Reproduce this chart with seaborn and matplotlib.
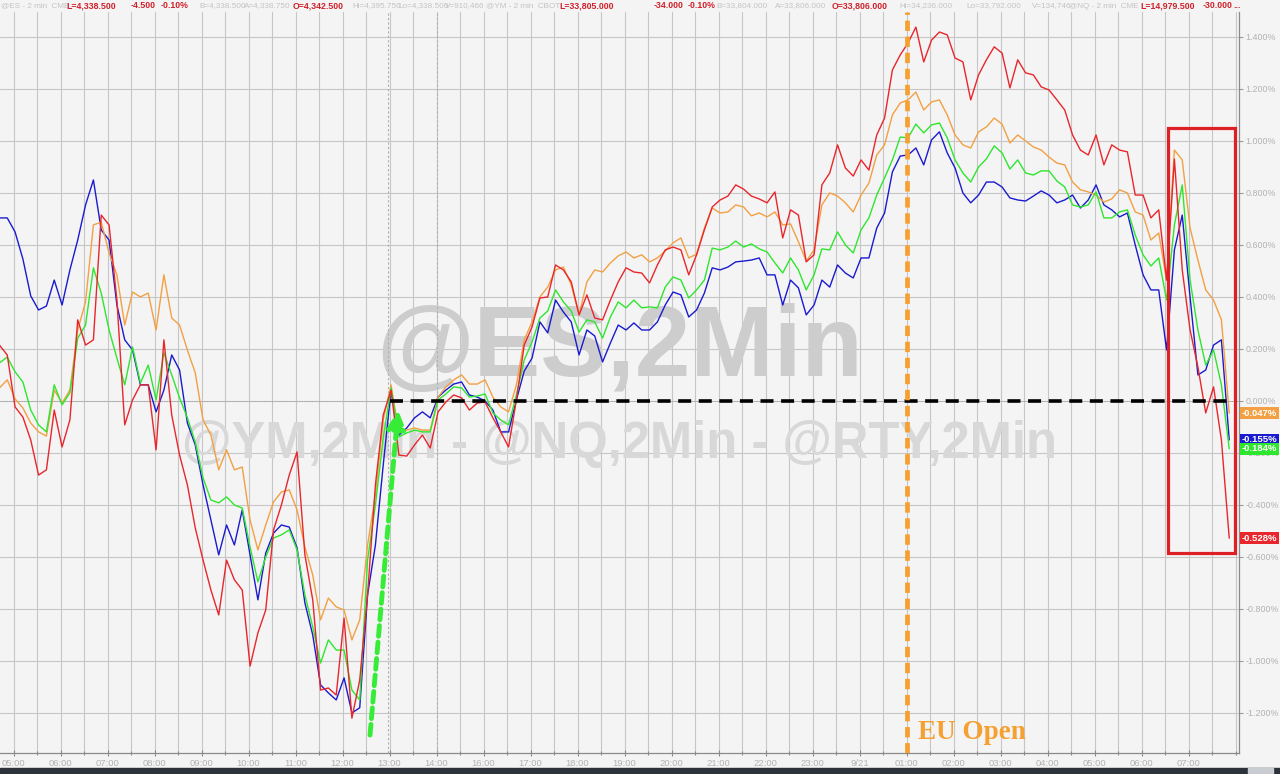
import numpy as np
import pandas as pd
import matplotlib
matplotlib.use("Agg")
import matplotlib.pyplot as plt
import matplotlib.transforms as mtransforms
from matplotlib import font_manager
from matplotlib.patches import Rectangle
from matplotlib.ticker import FuncFormatter, MultipleLocator
import seaborn as sns

# chart time: hours after the 05:00 slot, one reading every 10 minutes
T_START = -0.3
T_STEP = 1 / 6

HOUR_LABELS = ["05:00", "06:00", "07:00", "08:00", "09:00", "10:00", "11:00", "12:00",
               "13:00", "14:00", "16:00", "17:00", "18:00", "19:00", "20:00", "21:00",
               "22:00", "23:00", "9/21", "01:00", "02:00", "03:00", "04:00", "05:00",
               "06:00", "07:00"]

# % change
es = [0.704, 0.704, 0.650, 0.546, 0.404, 0.350, 0.365, 0.465, 0.369, 0.504,
      0.619, 0.754, 0.850, 0.658, 0.619, 0.369, 0.235, 0.196, 0.062, 0.062,
      -0.042, 0.042, 0.177, 0.119, -0.085, -0.169, -0.323, -0.458, -0.592, -0.477,
      -0.554, -0.419, -0.592, -0.765, -0.585, -0.508, -0.477, -0.485, -0.565, -0.777,
      -0.900, -1.092, -1.123, -1.150, -1.065, -1.200, -1.180, -0.746, -0.554, -0.246,
      0.042, -0.131, -0.104, -0.065, -0.042, -0.065, 0.015, 0.042, 0.065, 0.073,
      0.023, 0.015, 0.000, -0.035, -0.119, -0.119, 0.004, 0.115, 0.165, 0.304,
      0.262, 0.388, 0.342, 0.304, 0.177, 0.273, 0.250, 0.150, 0.223, 0.292,
      0.273, 0.300, 0.273, 0.273, 0.304, 0.369, 0.419, 0.408, 0.323, 0.350,
      0.415, 0.512, 0.504, 0.515, 0.535, 0.538, 0.542, 0.550, 0.485, 0.485,
      0.369, 0.465, 0.435, 0.331, 0.369, 0.465, 0.438, 0.523, 0.492, 0.473,
      0.550, 0.550, 0.665, 0.723, 0.881, 0.942, 0.946, 0.973, 0.908, 1.004,
      1.035, 0.954, 0.896, 0.800, 0.762, 0.792, 0.842, 0.842, 0.823, 0.781,
      0.773, 0.769, 0.788, 0.808, 0.792, 0.762, 0.773, 0.792, 0.742, 0.773,
      0.831, 0.754, 0.735, 0.708, 0.723, 0.600, 0.485, 0.427, 0.427, 0.196,
      0.581, 0.715, 0.400, 0.100, 0.119, 0.215, 0.235, -0.150]

rty = [0.215, 0.177, -0.023, -0.062, -0.150, -0.285, -0.265, -0.035, -0.177, -0.073,
       0.312, 0.215, 0.235, 0.715, 0.677, 0.388, -0.092, 0.004, 0.062, 0.062,
       -0.188, 0.235, -0.054, -0.208, -0.323, -0.488, -0.612, -0.727, -0.823, -0.612,
       -0.688, -0.727, -1.020, -0.892, -0.804, -0.496, -0.400, -0.285, -0.196, -0.592,
       -0.765, -1.112, -1.104, -1.131, -0.835, -1.220, -1.073, -0.746, -0.323, -0.054,
       0.042, -0.208, -0.212, -0.169, -0.131, -0.181, -0.042, -0.004, 0.023, 0.012,
       -0.035, -0.008, -0.004, -0.065, -0.119, -0.177, 0.004, 0.215, 0.285, 0.396,
       0.400, 0.523, 0.504, 0.458, 0.331, 0.408, 0.319, 0.312, 0.388, 0.458,
       0.512, 0.496, 0.492, 0.454, 0.523, 0.581, 0.592, 0.581, 0.485, 0.562,
       0.658, 0.746, 0.773, 0.788, 0.831, 0.815, 0.788, 0.777, 0.762, 0.804,
       0.627, 0.735, 0.715, 0.535, 0.562, 0.831, 0.877, 0.985, 0.896, 0.865,
       0.927, 0.888, 1.023, 1.088, 1.273, 1.331, 1.377, 1.438, 1.304, 1.388,
       1.419, 1.408, 1.319, 1.304, 1.158, 1.254, 1.312, 1.362, 1.338, 1.204,
       1.312, 1.262, 1.254, 1.208, 1.196, 1.158, 1.119, 1.023, 0.965, 0.946,
       1.023, 0.908, 0.985, 0.965, 0.958, 0.792, 0.792, 0.704, 0.735, 0.465,
       0.930, 0.504, 0.273, 0.131, -0.046, 0.054, -0.150, -0.528]

nq = [0.050, 0.081, 0.008, -0.027, -0.085, -0.119, -0.135, 0.042, -0.008, 0.042,
      0.273, 0.381, 0.677, 0.688, 0.569, 0.485, 0.292, 0.419, 0.400, 0.415,
      0.273, 0.485, 0.319, 0.292, 0.196, 0.108, -0.073, -0.131, -0.265, -0.188,
      -0.265, -0.254, -0.458, -0.573, -0.477, -0.388, -0.350, -0.342, -0.419, -0.562,
      -0.669, -0.842, -0.758, -0.792, -0.804, -0.919, -0.842, -0.554, -0.362, -0.073,
      0.062, -0.123, -0.112, -0.104, -0.112, -0.112, 0.015, 0.054, 0.081, 0.100,
      0.065, 0.065, 0.081, 0.015, -0.023, -0.042, 0.062, 0.235, 0.304, 0.400,
      0.438, 0.504, 0.515, 0.446, 0.331, 0.458, 0.504, 0.496, 0.531, 0.558,
      0.573, 0.550, 0.562, 0.535, 0.550, 0.577, 0.608, 0.627, 0.550, 0.565,
      0.665, 0.742, 0.723, 0.727, 0.754, 0.746, 0.712, 0.723, 0.708, 0.727,
      0.677, 0.681, 0.612, 0.538, 0.581, 0.754, 0.800, 0.788, 0.762, 0.727,
      0.792, 0.838, 0.946, 0.985, 1.100, 1.146, 1.158, 1.188, 1.119, 1.150,
      1.158, 1.100, 1.023, 0.985, 0.973, 1.035, 1.054, 1.088, 1.065, 0.992,
      1.023, 1.000, 0.977, 0.965, 0.938, 0.915, 0.908, 0.842, 0.812, 0.804,
      0.792, 0.765, 0.777, 0.812, 0.800, 0.727, 0.715, 0.619, 0.646, 0.465,
      0.965, 0.927, 0.665, 0.542, 0.427, 0.388, 0.312, -0.047]

ym = [0.146, 0.169, 0.112, 0.073, -0.035, -0.092, -0.119, 0.062, -0.015, 0.031,
      0.242, 0.292, 0.512, 0.415, 0.273, 0.165, 0.062, 0.208, 0.069, 0.138,
      0.004, 0.185, 0.100, 0.012, -0.065, -0.158, -0.296, -0.381, -0.392, -0.369,
      -0.400, -0.412, -0.562, -0.696, -0.600, -0.527, -0.515, -0.496, -0.573, -0.746,
      -0.869, -1.008, -0.919, -0.958, -0.958, -1.112, -1.150, -0.612, -0.400, -0.142,
      0.050, -0.138, -0.123, -0.112, -0.119, -0.119, 0.004, 0.027, 0.054, 0.050,
      0.015, 0.019, 0.027, -0.046, -0.073, -0.092, 0.023, 0.158, 0.227, 0.319,
      0.346, 0.427, 0.381, 0.346, 0.265, 0.312, 0.304, 0.242, 0.323, 0.381,
      0.358, 0.388, 0.358, 0.362, 0.358, 0.438, 0.477, 0.465, 0.396, 0.427,
      0.465, 0.588, 0.581, 0.592, 0.615, 0.592, 0.604, 0.585, 0.573, 0.531,
      0.492, 0.550, 0.504, 0.427, 0.485, 0.585, 0.581, 0.650, 0.600, 0.569,
      0.658, 0.704, 0.792, 0.858, 0.927, 1.015, 1.012, 1.065, 1.031, 1.062,
      1.069, 1.012, 0.927, 0.877, 0.842, 0.900, 0.931, 0.981, 0.954, 0.892,
      0.927, 0.877, 0.869, 0.885, 0.885, 0.846, 0.823, 0.754, 0.746, 0.754,
      0.804, 0.704, 0.704, 0.727, 0.735, 0.638, 0.562, 0.519, 0.550, 0.388,
      0.677, 0.831, 0.465, 0.273, 0.138, 0.196, 0.062, -0.184]

END_LABELS = {"NQ": "-0.047%", "ES": "-0.155%", "YM": "-0.184%", "RTY": "-0.528%"}

COLORS = {"ES": "#1a1ad0", "NQ": "#f2a043", "YM": "#2ee62e", "RTY": "#e8262b"}
BG = "#f4f4f4"

HEADER = [("@ES - 2 min  CME", 0), ("L=4,338.500", 1), ("-4.500", 1), ("-0.10%", 1),
          ("B=4,338.500", 0), ("A=4,338.750", 0), ("O=4,342.500", 1),
          ("Hi=4,395.750", 0), ("Lo=4,338.500", 0), ("V=910,466", 0),
          ("@YM - 2 min  CBOT", 0), ("L=33,805.000", 1), ("-34.000", 1), ("-0.10%", 1),
          ("B=33,804.000", 0), ("A=33,806.000", 0), ("O=33,806.000", 1),
          ("Hi=34,236.000", 0), ("Lo=33,792.000", 0), ("V=134,746", 0),
          ("@NQ - 2 min  CME", 0), ("L=14,979.500", 1), ("-30.000", 1), ("...", 1)]
HEADER_X = [1, 66, 131, 161, 199, 244, 293, 352, 398, 445, 486, 559, 654, 688,
            716, 775, 832, 899, 966, 1032, 1069, 1140, 1203, 1233]

series = {"ES": es, "NQ": nq, "YM": ym, "RTY": rty}
n = len(es)
t = T_START + T_STEP * np.arange(n)
df = pd.concat([pd.DataFrame({"t": t, "chg": v, "sym": k}) for k, v in series.items()])

sns.set_theme(style="whitegrid")
plt.rcParams["font.family"] = ["Liberation Sans", "DejaVu Sans"]

installed = {f.name for f in font_manager.fontManager.ttflist}
if "Liberation Sans Narrow" in installed:
    head_font, red_size, gray_size = "Liberation Sans Narrow", 7.6, 7.0
else:
    head_font, red_size, gray_size = "Liberation Sans", 6.3, 5.9

W, H = 1280, 774
fig = plt.figure(figsize=(W / 100, H / 100), dpi=100, facecolor=BG)
ax = fig.add_axes([0, 21 / H, 1239 / W, (753 - 12) / H])
ax.set_facecolor(BG)
ax.set_axisbelow(True)

sns.lineplot(data=df, x="t", y="chg", hue="sym", hue_order=["ES", "NQ", "YM", "RTY"],
             palette=COLORS, legend=False, estimator=None, sort=False, lw=1.0, ax=ax,
             zorder=3)

x0 = (0 - 13.5) / 47
x1 = (1239 - 13.5) / 47
ax.set_xlim(x0, x1)
ax.set_ylim(-1.354, 1.496)

ax.set_xticks(np.arange(len(HOUR_LABELS)))
ax.set_xticklabels(HOUR_LABELS)
ax.xaxis.set_minor_locator(MultipleLocator(0.5))
ax.yaxis.set_major_locator(MultipleLocator(0.2))
ax.yaxis.set_major_formatter(FuncFormatter(lambda v, p: f"{(0.0 if abs(v) < 1e-9 else v):.3f}%"))
ax.yaxis.tick_right()
ax.set_xlabel("")
ax.set_ylabel("")

ax.grid(False)
ax.grid(True, which="both", axis="x", color="#c6c6c6", lw=0.8)
ax.grid(True, which="major", axis="y", color="#c6c6c6", lw=0.8)

for s in ["left", "top"]:
    ax.spines[s].set_visible(False)
for s in ["right", "bottom"]:
    ax.spines[s].set_color("#8a8a8a")
    ax.spines[s].set_linewidth(0.9)

ax.tick_params(axis="y", which="major", right=True, length=3, width=0.8, color="#9a9a9a",
               labelsize=6.4, labelcolor="#b2b2b2", pad=1.5)
ax.tick_params(axis="x", which="major", bottom=True, length=4, width=0.8, color="#8a8a8a",
               labelsize=6.8, labelcolor="#b2b2b2", pad=2, direction="inout")
ax.tick_params(axis="x", which="minor", bottom=True, length=3, width=0.8, color="#8a8a8a",
               direction="inout")

# watermark
ax.text(0.5, 0.544, "@ES,2Min", transform=ax.transAxes, ha="center", va="center",
        fontsize=72, fontweight="bold", color="#cdcdcd", zorder=1)
ax.text(0.5, 0.416, "@YM,2Min - @NQ,2Min - @RTY,2Min", transform=ax.transAxes,
        ha="center", va="center", fontsize=36.5, fontweight="bold", color="#d8d8d8", zorder=1)

# zero reference, session breaks
ax.axhline(0, color="#9a9a9a", lw=0.6, ls=(0, (1, 1)), zorder=2)
for xb in [(388 - 13.5) / 47, 9.0]:
    ax.axvline(xb, color="#b0b0b0", lw=0.8, ls=(0, (2, 2)), zorder=2)

# annotations
ax.hlines(0, 8.0, t[-1], color="black", lw=2.6, ls=(0, (3.6, 2.1)), zorder=4)
ax.axvline(19.0, color="#f5a030", lw=3.4, ls=(0, (2.2, 1.2)), zorder=4)
ax.text(19.25, 0.027, "EU Open", transform=mtransforms.blended_transform_factory(ax.transData, ax.transAxes),
        ha="left", va="center", fontsize=19.5, fontweight="bold", color="#f5a030",
        family=["Liberation Serif", "DejaVu Serif"], zorder=5)

ax.annotate("", xy=((398 - 13.5) / 47, -0.035), xytext=((370 - 13.5) / 47, -1.285),
            arrowprops=dict(arrowstyle="-|>,head_length=0.9,head_width=0.45", color="#36ec36",
                            lw=3.5, ls=(0, (2.2, 1.2)), shrinkA=0, shrinkB=0), zorder=5)

rx0 = (1168 - 13.5) / 47
rx1 = (1235 - 13.5) / 47
ax.add_patch(Rectangle((rx0, -0.585), rx1 - rx0, 1.05 + 0.585, fill=False,
                       edgecolor="#dd1f26", lw=2.3, zorder=5))

# last value tags
tag = mtransforms.blended_transform_factory(ax.transAxes, ax.transData)
for sym in ["NQ", "ES", "YM", "RTY"]:
    ax.text(1.0025, series[sym][-1], END_LABELS[sym], transform=tag, ha="left", va="center",
            fontsize=6.8, fontweight="bold", color="white", clip_on=False, zorder=6,
            bbox=dict(boxstyle="square,pad=0.18", fc=COLORS[sym], ec="none"))

# header line
for (txt, red), xp in zip(HEADER, HEADER_X):
    fig.text(xp / W, 1 - 6 / H, txt, ha="left", va="center", family=[head_font, "DejaVu Sans"],
             fontsize=red_size if red else gray_size, fontweight="bold" if red else "normal",
             color="#d0202a" if red else "#c4c4c4")

# scrollbar strip
fig.add_artist(Rectangle((0, 0), 1, 6 / H, transform=fig.transFigure, color="#2c3239", zorder=10))
fig.add_artist(Rectangle((1248 / W, 0), 25 / W, 6 / H, transform=fig.transFigure,
                         color="#c9cdd2", zorder=11))

fig.savefig("out.png", dpi=100, facecolor=BG)
